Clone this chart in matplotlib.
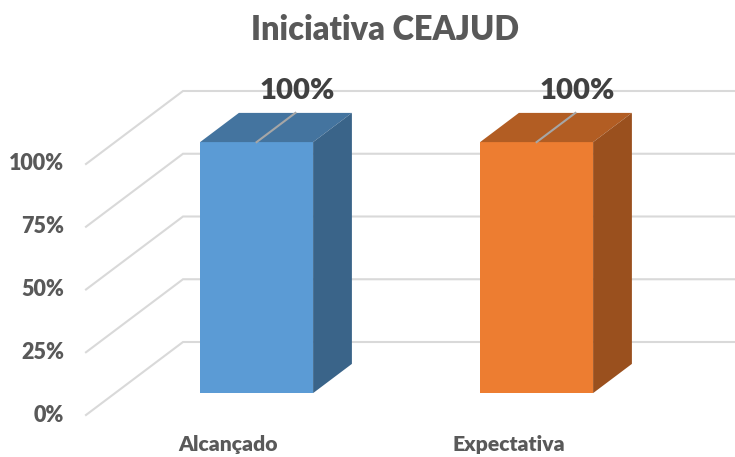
import matplotlib
matplotlib.use("Agg")
import matplotlib.pyplot as plt
from matplotlib.patches import Polygon

plt.rcParams["font.family"] = ["Lato", "DejaVu Sans"]

# Chart data
categories = ["Alcançado", "Expectativa"]
values = [100, 100]
tick_values = [0, 25, 50, 75, 100]
tick_labels = ["0%", "25%", "50%", "75%", "100%"]
value_labels = ["100%", "100%"]
title = "Iniciativa CEAJUD"

front_colors = ["#5B9BD5", "#ED7D31"]
top_colors = ["#44749F", "#B25D23"]
side_colors = ["#3A6489", "#9A501E"]

# Oblique 3D projection (pixel layout of the figure)
W, H = 735, 457
FLOOR_Y = 415.0     # front-left wall edge at 0%
UNIT = 2.51         # px per percent
DEPTH_DX, DEPTH_DY = 97.0, -73.0
WALL_X = 86.0
CAT0, CAT_STEP = 227.5, 280.0
BAR_HALF = 56.5
BAR_D0, BAR_D1 = 0.30, 0.70
WEIGHT = "heavy"


def proj(x, v, d):
    return (x + d * DEPTH_DX, FLOOR_Y - UNIT * v + d * DEPTH_DY)


fig = plt.figure(figsize=(W / 100, H / 100), dpi=100)
ax = fig.add_axes([0, 0, 1, 1])
ax.set_xlim(0, W)
ax.set_ylim(H, 0)
ax.axis("off")

grid_color = "#D9D9D9"
# wall gridlines: side wall diagonal + back wall horizontal
for v, lab in zip(tick_values, tick_labels):
    p0 = proj(WALL_X, v, 0)
    p1 = proj(WALL_X, v, 1)
    ax.plot([p0[0], p1[0], W + 5], [p0[1], p1[1], p1[1]],
            color=grid_color, lw=1.5, zorder=1, solid_joinstyle="miter")
    ax.text(p0[0] - 22, p0[1], lab, ha="right", va="center", fontsize=15.5,
            fontweight=WEIGHT, color="#595959")

# bars
for i, (cat, v) in enumerate(zip(categories, values)):
    cx = CAT0 + i * CAT_STEP
    xl, xr = cx - BAR_HALF, cx + BAR_HALF
    fbl = proj(xl, 0, BAR_D0)
    fbr = proj(xr, 0, BAR_D0)
    ftl = proj(xl, v, BAR_D0)
    ftr = proj(xr, v, BAR_D0)
    btl = proj(xl, v, BAR_D1)
    btr = proj(xr, v, BAR_D1)
    bbr = proj(xr, 0, BAR_D1)
    ax.add_patch(Polygon([fbl, fbr, ftr, ftl], closed=True,
                         facecolor=front_colors[i], edgecolor="none", zorder=3))
    ax.add_patch(Polygon([ftl, ftr, btr, btl], closed=True,
                         facecolor=top_colors[i], edgecolor="none", zorder=3))
    ax.add_patch(Polygon([fbr, bbr, btr, ftr], closed=True,
                         facecolor=side_colors[i], edgecolor="none", zorder=3))
    # leader line across the top face
    a = proj(cx, v, BAR_D0)
    b = proj(cx, v, BAR_D1)
    ax.plot([a[0], b[0]], [a[1], b[1]], color="#A6A6A6", lw=1.5, zorder=4)
    ax.text(b[0] + 2, b[1] - 22, value_labels[i], ha="center", va="center",
            fontsize=21, fontweight=WEIGHT, color="#404040", zorder=5)
    # category label at the front of the floor
    ax.text(cx + 1, 444, cat, ha="center", va="center", fontsize=15.2,
            fontweight=WEIGHT, color="#595959")

ax.text(385, 30, title, ha="center", va="center", fontsize=23.5,
        fontweight=WEIGHT, color="#595959")

fig.savefig("out.png", dpi=100, facecolor="white")
